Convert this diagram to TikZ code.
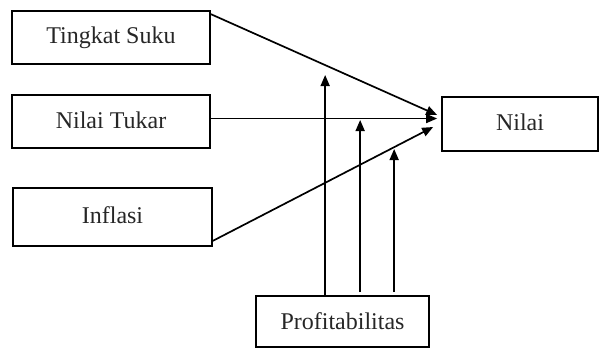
\documentclass[tikz,border=0pt]{standalone}
\usepackage{fontspec}
\setmainfont{Liberation Serif}
\usetikzlibrary{arrows.meta,calc}
\begin{document}
\begin{tikzpicture}[x=1pt,y=-1pt,
  box/.style={draw, line width=1.7pt, inner sep=0pt, font=\fontsize{24}{26}\selectfont, text=black!85},
  arr/.style={line width=1.7pt, -{Triangle[length=11pt,width=9pt]}}]
\useasboundingbox (0,0) rectangle (601,349);
\node[box, minimum width=198pt, minimum height=53pt] (suku) at (111,37.5) {\raisebox{3pt}{Tingkat Suku}};
\node[box, minimum width=198pt, minimum height=53pt] (tukar) at (111,121.5) {\raisebox{2pt}{Nilai Tukar}};
\node[box, minimum width=199pt, minimum height=58pt] (inflasi) at (112.5,217) {\raisebox{3pt}{Inflasi}};
\node[box, minimum width=156pt, minimum height=54pt] (nilai) at (520,124) {\raisebox{3pt}{Nilai}};
\node[box, minimum width=173pt, minimum height=51pt] (profit) at (342.5,321.5) {Profitabilitas};
% endpoints
\coordinate (e1) at ($(nilai.west)+(-4,-9)$);
\coordinate (e2) at ($(nilai.west)+(-4,-6)$);
\coordinate (e3) at ($(nilai.west)+(-8,3)$);
\coordinate (s1) at ($(suku.north east)+(0,4)$);
\coordinate (s2) at ($(tukar.east)+(0,-3)$);
\coordinate (s3) at ($(inflasi.south east)+(0,-6)$);
\draw[arr] (s1) -- (e1);
\draw[arr] (s2) -- (s2 -| e2);
\draw[arr] (s3) -- (e3);
% vertical moderating arrows
\coordinate (p1) at ($(profit.north west)+(70,0)$);
\coordinate (p2) at ($(profit.north west)+(105,-3)$);
\coordinate (p3) at ($(profit.north west)+(139,-3)$);
\coordinate (q1) at (p1 |- 0,75);
\coordinate (q2) at (p2 |- 0,120);
\coordinate (q3) at (p3 |- 0,149);
\draw[arr] (p1) -- (q1);
\draw[arr] (p2) -- (q2);
\draw[arr] (p3) -- (q3);
\end{tikzpicture}
\end{document}
